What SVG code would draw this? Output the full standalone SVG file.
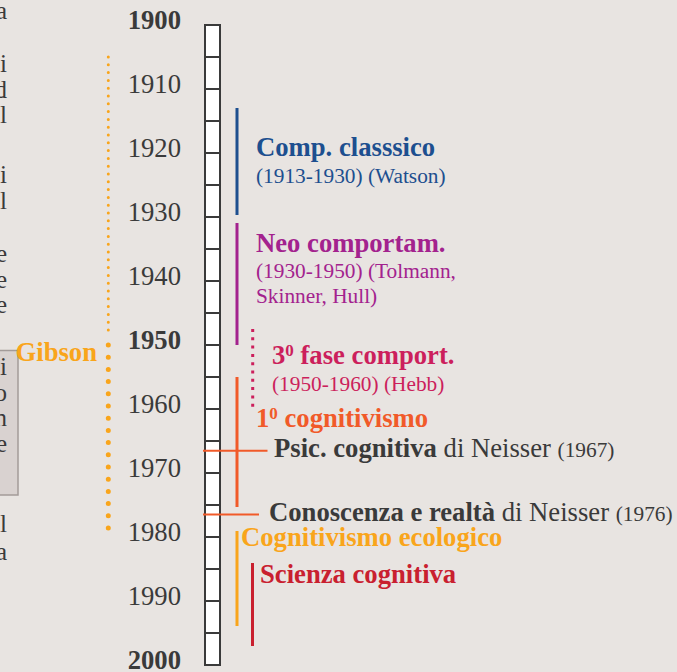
<svg xmlns="http://www.w3.org/2000/svg" width="677" height="672" viewBox="0 0 677 672">
<style>
text{font-family:"Liberation Serif","Times New Roman",serif}
.yr{font-size:26.67px;fill:#3a3a3a;text-anchor:end}
.b{font-weight:bold}
.t{font-size:26.67px;font-weight:bold}
.s{font-size:21.33px}
.frag{font-size:25px;fill:#3a3a3a;text-anchor:end}
.cell{stroke:#3a3a3a;stroke-width:2}
.bar{stroke-width:3;fill:none}
</style>
<rect x="0" y="0" width="677" height="672" fill="#e8e4e1"/>
<g id="left-text">
<text class="frag" x="7" y="19">a</text>
<text class="frag" x="7" y="72">i</text>
<text class="frag" x="7" y="98">d</text>
<text class="frag" x="7" y="123">l</text>
<text class="frag" x="7" y="183">i</text>
<text class="frag" x="7" y="209">l</text>
<text class="frag" x="7" y="262">e</text>
<text class="frag" x="7" y="288">e</text>
<text class="frag" x="7" y="313">e</text>
<rect x="-5" y="350.5" width="23" height="144.5" fill="#d9d2d0" stroke="#a39b99" stroke-width="1.5"/>
<text class="frag" x="7" y="375">i</text>
<text class="frag" x="7" y="401">o</text>
<text class="frag" x="7" y="426">n</text>
<text class="frag" x="7" y="452">e</text>
<text class="frag" x="7" y="532">l</text>
<text class="frag" x="7" y="560">a</text>
</g>
<g id="timeline">
<rect x="205" y="25" width="15" height="640" fill="#ffffff" class="cell"/>
<path class="cell" d="M205 57H220M205 89H220M205 121H220M205 153H220M205 185H220M205 217H220M205 249H220M205 281H220M205 313H220M205 345H220M205 377H220M205 409H220M205 441H220M205 473H220M205 505H220M205 537H220M205 569H220M205 601H220M205 633H220"/>
<text class="yr b" x="181" y="29">1900</text>
<text class="yr" x="181" y="93">1910</text>
<text class="yr" x="181" y="157">1920</text>
<text class="yr" x="181" y="221">1930</text>
<text class="yr" x="181" y="285">1940</text>
<text class="yr b" x="181" y="349">1950</text>
<text class="yr" x="181" y="413">1960</text>
<text class="yr" x="181" y="477">1970</text>
<text class="yr" x="181" y="541">1980</text>
<text class="yr" x="181" y="605">1990</text>
<text class="yr b" x="181" y="669">2000</text>
</g>
<g id="connectors">
<line x1="108.3" y1="57" x2="108.3" y2="335" stroke="#f9a51b" stroke-width="3" stroke-linecap="round" stroke-dasharray="0 7.8"/>
<line x1="108.3" y1="345" x2="108.3" y2="529" stroke="#f9a51b" stroke-width="5" stroke-linecap="round" stroke-dasharray="0 12.2"/>
<line class="bar" x1="237" y1="108" x2="237" y2="215" stroke="#1d4f8f"/>
<line class="bar" x1="237" y1="223" x2="237" y2="345" stroke="#a3228e"/>
<line x1="252.7" y1="329" x2="252.7" y2="410" stroke="#cc1f5c" stroke-width="3" stroke-dasharray="3 5.3"/>
<line class="bar" x1="237" y1="377" x2="237" y2="507" stroke="#f15a29"/>
<line x1="203" y1="450.7" x2="267.5" y2="450.7" stroke="#f15a29" stroke-width="2"/>
<line x1="203" y1="514.5" x2="259" y2="514.5" stroke="#f15a29" stroke-width="2"/>
<line class="bar" x1="237" y1="531" x2="237" y2="626" stroke="#f9a51b"/>
<line class="bar" x1="252.5" y1="563" x2="252.5" y2="646" stroke="#c9202f"/>
</g>
<g id="gibson">
<text class="t" x="97" y="361" text-anchor="end" fill="#f9a51b">Gibson</text>
</g>
<g id="comp-classico" fill="#1d4f8f">
<text class="t" x="256" y="156">Comp. classsico</text>
<text class="s" x="256" y="183">(1913-1930) (Watson)</text>
</g>
<g id="neo-comportam" fill="#a3228e">
<text class="t" x="256" y="252">Neo comportam.</text>
<text class="s" x="256" y="278">(1930-1950) (Tolmann,</text>
<text class="s" x="256" y="303">Skinner, Hull)</text>
</g>
<g id="terza-fase" fill="#cc1f5c">
<text class="t" x="272" y="364">3<tspan font-size="17" dy="-8">0</tspan><tspan dy="8"> fase comport.</tspan></text>
<text class="s" x="272" y="391">(1950-1960) (Hebb)</text>
</g>
<g id="primo-cognitivismo" fill="#f15a29">
<text class="t" x="256" y="427">1<tspan font-size="17" dy="-8">0</tspan><tspan dy="8"> cognitivismo</tspan></text>
</g>
<g id="psic-cognitiva" fill="#3a3a3a">
<text x="274" y="457" font-size="26.67"><tspan font-weight="bold">Psic. cognitiva</tspan> di Neisser <tspan font-size="21.33">(1967)</tspan></text>
</g>
<g id="conoscenza-realta" fill="#3a3a3a">
<text x="269" y="521" font-size="26.67"><tspan font-weight="bold">Conoscenza e realtà</tspan> di Neisser <tspan font-size="21.33">(1976)</tspan></text>
</g>
<g id="cognitivismo-ecologico">
<text class="t" x="241" y="546" fill="#f9a51b">Cognitivismo ecologico</text>
</g>
<g id="scienza-cognitiva">
<text class="t" x="260" y="583" fill="#c9202f">Scienza cognitiva</text>
</g>
</svg>
